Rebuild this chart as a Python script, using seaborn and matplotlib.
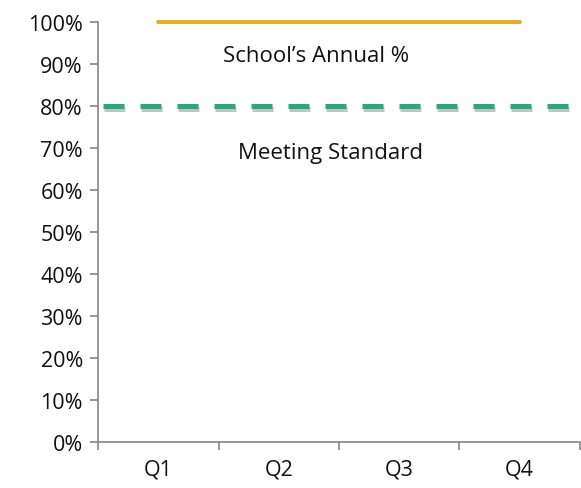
import matplotlib
matplotlib.use("Agg")
import matplotlib.pyplot as plt
import matplotlib.patheffects as pe
from matplotlib.ticker import PercentFormatter, FixedLocator
import seaborn as sns
import pandas as pd

# chart data
quarters = ["Q1", "Q2", "Q3", "Q4"]
school_annual = [1.0, 1.0, 1.0, 1.0]
meeting_standard = 0.8

gold = "#EBA920"
green = "#2CA67C"
axis_gray = "#868686"

sns.set_style("white")
plt.rcParams["font.family"] = ["Open Sans", "DejaVu Sans"]

df = pd.DataFrame({"quarter": quarters, "pct": school_annual})

fig = plt.figure(figsize=(5.81, 4.89), dpi=100)
ax = fig.add_axes([0.169, 0.094, 0.829, 0.859])

# line sits on the top edge, so don't clip it
sns.lineplot(data=df, x="quarter", y="pct", color=gold, linewidth=2.8,
             solid_capstyle="round", ax=ax, sort=False, clip_on=False)

# meeting standard line with soft shadow
ax.axhline(meeting_standard, xmin=0.01, xmax=1.0, color=green, linewidth=3.6,
           dashes=(4.2, 3.2), dash_capstyle="butt",
           path_effects=[pe.SimpleLineShadow(offset=(1, -2.5), shadow_color="#888888", alpha=0.5),
                         pe.Normal()])

ax.text(1.31, 0.92, "School\u2019s Annual %", ha="center", va="center", fontsize=16, color="#111111")
ax.text(1.43, 0.69, "Meeting Standard", ha="center", va="center", fontsize=16, color="#111111")

ax.set_xlim(-0.5, 3.5)
ax.set_ylim(0, 1.0)
ax.yaxis.set_major_locator(FixedLocator([i / 10 for i in range(11)]))
ax.yaxis.set_major_formatter(PercentFormatter(1.0, decimals=0))

# category boundaries as tick marks
ax.xaxis.set_minor_locator(FixedLocator([-0.5, 0.5, 1.5, 2.5, 3.5]))
ax.tick_params(axis="x", which="major", length=0, pad=12, labelsize=15.5, colors="#111111")
ax.tick_params(axis="x", which="minor", length=6, width=1.2, color=axis_gray, direction="out")
ax.tick_params(axis="y", which="major", length=6, width=1.2, color=axis_gray, direction="out",
               labelsize=15.5, labelcolor="#111111", pad=5)
ax.xaxis.set_ticks_position("bottom")
ax.yaxis.set_ticks_position("left")

for side in ["top", "right"]:
    ax.spines[side].set_visible(False)
for side in ["left", "bottom"]:
    ax.spines[side].set_color(axis_gray)
    ax.spines[side].set_linewidth(1.2)

ax.set_xlabel("")
ax.set_ylabel("")
for spine in ax.spines.values():
    spine.set_clip_on(False)

fig.savefig("out.png", dpi=100)
